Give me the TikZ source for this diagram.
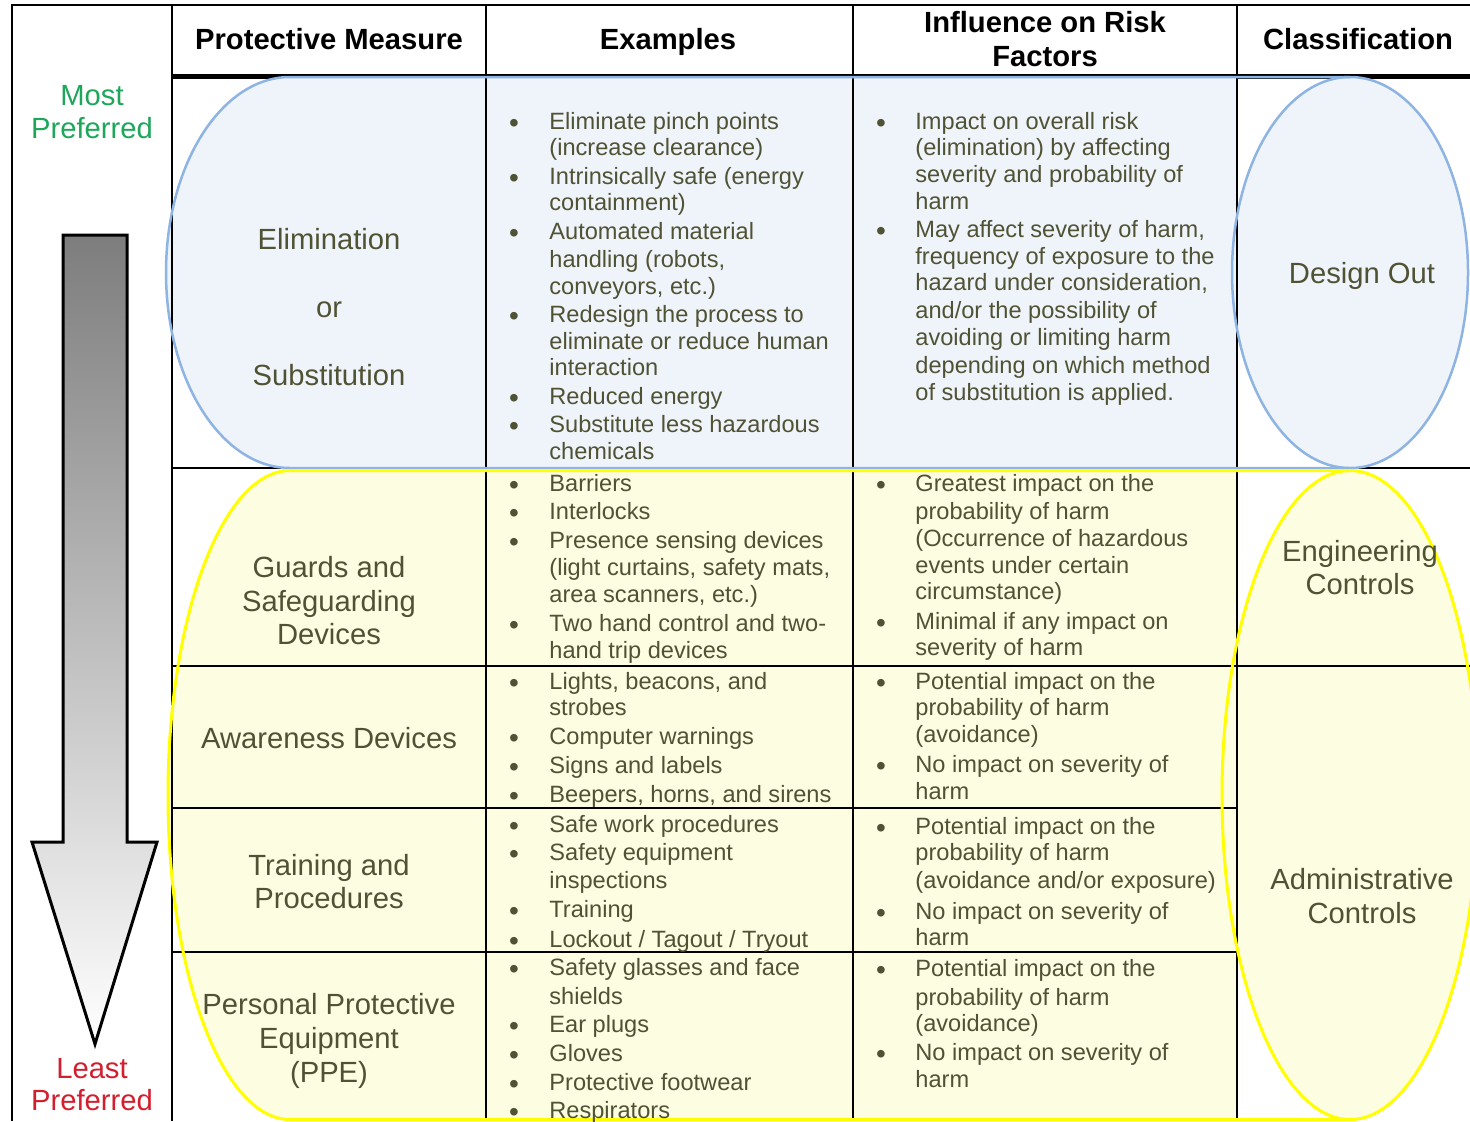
\documentclass[tikz,border=0pt]{standalone}
\usepackage{fontspec}
\setmainfont{Liberation Sans}
\definecolor{txt}{RGB}{80,82,52}
\definecolor{bfill}{RGB}{239,244,251}
\definecolor{bline}{RGB}{141,180,226}
\definecolor{yfill}{RGB}{253,253,225}
\definecolor{yline}{RGB}{255,255,0}
\definecolor{mostgreen}{RGB}{30,166,90}
\definecolor{leastred}{RGB}{210,30,45}
\definecolor{arrtop}{RGB}{125,125,125}
\tikzset{
  body/.style={font=\fontsize{11.8}{14}\selectfont, text=txt, anchor=mid west, inner sep=0pt, yshift=-1.25pt},
  bul/.style={font=\fontsize{14}{16}\selectfont, text=txt, anchor=base, inner sep=0pt, yshift=-5pt},
  big/.style={font=\fontsize{14.6}{17}\selectfont, text=txt, anchor=mid, inner sep=0pt, yshift=-2.5pt},
  hdr/.style={font=\bfseries\fontsize{14.6}{17}\selectfont, text=black, anchor=mid, inner sep=0pt, yshift=-2.5pt},
  gridline/.style={line width=1.25pt, black},
  rowline/.style={line width=1pt, black},
  bluestroke/.style={draw=bline, line width=1.25pt},
  yelstroke/.style={draw=yline, line width=1.5pt},
}
\begin{document}
\begin{tikzpicture}[x=0.5pt,y=-0.5pt]
\useasboundingbox (0,0) rectangle (1470,1121);
\fill[white] (0,0) rectangle (1470,1121);
\clip (0,0) rectangle (1470,1121);
% header bottom thick line
\draw[line width=2.5pt] (172,76) -- (1470,76);
% fills
\fill[bfill] (1237,77) -- (290,77) arc[start angle=90,end angle=270,x radius=62pt,y radius=97.75pt] -- (1237,468) -- cycle;
\fill[bfill] (1350,272.5) ellipse [x radius=59pt, y radius=97.75pt];
\fill[yfill] (1237,470.5) -- (290,470.5) arc[start angle=90,end angle=270,x radius=61pt,y radius=162.25pt] -- (1237,1119.5) -- cycle;
\fill[yfill] (1350,795) ellipse [x radius=64pt, y radius=162.25pt];
% grid
\draw[gridline] (12,1121) -- (12,5) -- (1470,5);
\foreach \xx in {172,486,853,1237} \draw[gridline] (\xx,5) -- (\xx,1121);
\draw[rowline] (172,468) -- (1470,468);
\draw[rowline] (172,666) -- (1470,666);
\draw[rowline] (172,808) -- (1237,808);
\draw[rowline] (172,952) -- (1237,952);
% strokes
\draw[bluestroke] (1350,77) -- (290,77) arc[start angle=90,end angle=270,x radius=62pt,y radius=97.75pt] -- (1350,468);
\draw[bluestroke] (1350,272.5) ellipse [x radius=59pt, y radius=97.75pt];
\draw[yelstroke] (1350,470.5) -- (290,470.5) arc[start angle=90,end angle=270,x radius=61pt,y radius=162.25pt] -- (1350,1119.5);
\draw[yelstroke] (1350,795) ellipse [x radius=64pt, y radius=162.25pt];
% arrow
\shadedraw[top color=arrtop, bottom color=white, draw=black, line width=1.5pt]
  (63,235) -- (127,235) -- (127,842) -- (157,842) -- (95,1044) -- (32,842) -- (63,842) -- cycle;
% headers
\node[hdr] (h1) at (329,39) {Protective Measure};
\node[hdr] (h2) at (668,39) {Examples};
\node[hdr] (h3a) at (1045,22) {Influence on Risk};
\node[hdr] (h3b) at (1045,56) {Factors};
\node[hdr] (h4) at (1358,39) {Classification};
% left column
\node[big, text=mostgreen] (most1) at (92,95) {Most};
\node[big, text=mostgreen] (most2) at (92,128) {Preferred};
\node[big, text=leastred] (least1) at (92,1068) {Least};
\node[big, text=leastred] (least2) at (92,1100) {Preferred};
% protective measures
\foreach \yy/\lbl in {239/Elimination, 307/or, 375/Substitution, 567/Guards and, 601/Safeguarding, 634/Devices, 738/Awareness Devices, 865/Training and, 898/Procedures, 1004/Personal Protective, 1038/Equipment, 1072/(PPE)}
  \node[big] (pm\yy) at (329,\yy) {\lbl};
% classification
\node[big] (c1) at (1362,273) {Design Out};
\node[big] (c2a) at (1360,551) {Engineering};
\node[big] (c2b) at (1360,584) {Controls};
\node[big] (c3a) at (1362,879) {Administrative};
\node[big] (c3b) at (1362,913) {Controls};
% examples
\foreach \yy/\lbl in {122/Eliminate pinch points, 148/(increase clearance), 177/Intrinsically safe (energy, 203/containment), 232/Automated material, 260/{handling (robots,}, 287/{conveyors, etc.)}, 315/Redesign the process to, 342/eliminate or reduce human, 368/interaction, 397/Reduced energy, 425/Substitute less hazardous, 452/chemicals,
 484/Barriers, 512/Interlocks, 541/Presence sensing devices, 568/{(light curtains, safety mats,}, 595/{area scanners, etc.)}, 624/Two hand control and two-, 651/hand trip devices,
 682/{Lights, beacons, and}, 708/strobes, 737/Computer warnings, 766/Signs and labels, 795/{Beepers, horns, and sirens},
 825/Safe work procedures, 853/Safety equipment, 881/inspections, 910/Training, 940/{Lockout / Tagout / Tryout},
 968/Safety glasses and face, 997/shields, 1025/Ear plugs, 1054/Gloves, 1083/Protective footwear, 1111/Respirators}
  \node[body] (ex\yy) at (549,\yy) {\lbl};
\foreach \yy in {122,177,232,315,397,425,484,512,541,624,682,737,766,795,825,853,910,940,968,1025,1054,1083,1111}
  \node[bul] (bx\yy) at (514,\yy) {•};
% influence
\foreach \yy/\lbl in {122/Impact on overall risk, 148/(elimination) by affecting, 175/severity and probability of, 202/harm, 230/{May affect severity of harm,}, 257/frequency of exposure to the, 283/{hazard under consideration,}, 311/{and/or the possibility of}, 338/avoiding or limiting harm, 366/depending on which method, 393/of substitution is applied.,
 484/Greatest impact on the, 512/probability of harm, 539/(Occurrence of hazardous, 566/events under certain, 592/circumstance), 622/Minimal if any impact on, 648/severity of harm,
 682/Potential impact on the, 708/probability of harm, 735/(avoidance), 765/No impact on severity of, 792/harm,
 827/Potential impact on the, 853/probability of harm, 881/{(avoidance and/or exposure)}, 912/No impact on severity of, 938/harm,
 969/Potential impact on the, 998/probability of harm, 1024/(avoidance), 1053/No impact on severity of, 1080/harm}
  \node[body] (in\yy) at (915,\yy) {\lbl};
\foreach \yy in {122,230,484,622,682,765,827,912,969,1053}
  \node[bul] (bi\yy) at (881,\yy) {•};
\end{tikzpicture}
\end{document}
